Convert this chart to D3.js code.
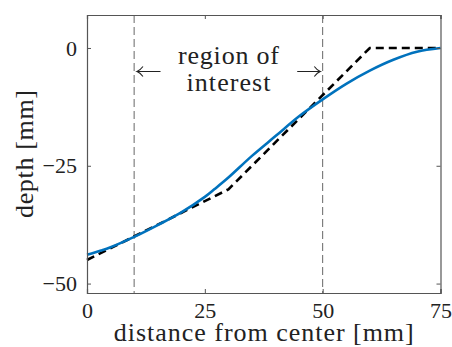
<!DOCTYPE html>
<html><head><meta charset="utf-8">
<script src="https://cdn.jsdelivr.net/npm/d3@7"></script>
<style>body{margin:0;background:#fff}svg{display:block}</style>
</head><body><svg id="c" width="452" height="347"></svg>
<script>
const blueX = [0, 3, 5, 10, 15, 20, 25, 27, 30, 35, 40, 45, 50, 55, 60, 65, 70, 75];
const blueY = [-43.9, -43.0, -42.3, -40.1, -37.6, -34.9, -31.6, -30.0, -27.5, -22.9, -18.7, -14.5, -10.9, -7.6, -4.8, -2.5, -0.8, 0];
const dashX = [0, 30, 60, 75];
const dashY = [-45, -30, 0, 0];
const regionX = [10, 50];
const xTicks = [0, 25, 50, 75];
const yTicks = [0, -25, -50];
const xLabel = "distance from center [mm]";
const yLabel = "depth [mm]";
const noteLines = ["region of", "interest"];

const FONT = '"Liberation Serif"';
const svg = d3.select("#c");
const L = 87, R = 440.5, T = 15, B = 293;
const x = d3.scaleLinear().domain([0, 75]).range([L, R]);
const y = d3.scaleLinear().domain([-52, 7]).range([B, T]);
const axisCol = "#555";

svg.selectAll(".reg").data(regionX).enter().append("line")
  .attr("x1", d => x(d)).attr("x2", d => x(d)).attr("y1", T).attr("y2", B)
  .attr("stroke", "#666").attr("stroke-width", 1).attr("stroke-dasharray", "8,4");

const line = d3.line().x(d => x(d[0])).y(d => y(d[1]));
svg.append("path").datum(dashX.map((v, i) => [v, dashY[i]]))
  .attr("d", line).attr("fill", "none").attr("stroke", "#000")
  .attr("stroke-width", 2.6).attr("stroke-dasharray", "8,5");
svg.append("path").datum(blueX.map((v, i) => [v, blueY[i]]))
  .attr("d", d3.line().x(d => x(d[0])).y(d => y(d[1])).curve(d3.curveCatmullRom))
  .attr("fill", "none").attr("stroke", "#0072BD").attr("stroke-width", 2.6);

const gx = svg.append("g").attr("transform", `translate(0,${B})`)
  .call(d3.axisBottom(x).tickValues(xTicks).tickSize(-4).tickPadding(9).tickFormat(d3.format("d")));
const gxt = svg.append("g").attr("transform", `translate(0,${T})`)
  .call(d3.axisTop(x).tickValues(xTicks).tickSize(-4).tickFormat(""));
const gy = svg.append("g").attr("transform", `translate(${L},0)`)
  .call(d3.axisLeft(y).tickValues(yTicks).tickSize(-4).tickPadding(10).tickFormat(d => d < 0 ? "\u2212" + Math.abs(d) : d));
const gyr = svg.append("g").attr("transform", `translate(${R},0)`)
  .call(d3.axisRight(y).tickValues(yTicks).tickSize(-4).tickFormat(""));
[gx, gxt, gy, gyr].forEach(g => {
  g.attr("font-family", null).attr("font-size", null);
  g.selectAll("path.domain").attr("stroke", axisCol).attr("stroke-width", 1.2);
  g.selectAll(".tick line").attr("stroke", axisCol);
  g.selectAll(".tick text").attr("fill", "#222").style("font-family", FONT).style("font-size", "22px");
});

svg.append("text").attr("x", (L + R) / 2).attr("y", 341).attr("text-anchor", "middle")
  .style("font-family", FONT).style("font-size", "26px").attr("fill", "#222")
  .attr("textLength", 300).attr("lengthAdjust", "spacing").text(xLabel);
svg.append("text").attr("transform", `translate(33,${(T + B) / 2}) rotate(-90)`)
  .attr("text-anchor", "middle").style("font-family", FONT).style("font-size", "26px").attr("fill", "#222")
  .attr("textLength", 128).attr("lengthAdjust", "spacing").text(yLabel);

svg.selectAll(".note").data(noteLines).enter().append("text")
  .attr("x", 228.5).attr("y", (d, i) => 64 + i * 27).attr("text-anchor", "middle")
  .style("font-family", FONT).style("font-size", "26px").attr("fill", "#222")
  .attr("textLength", (d, i) => i === 0 ? 101 : 84).attr("lengthAdjust", "spacing")
  .text(d => d);

const ay = y(-5);
function arrow(x0, x1) {
  const dir = Math.sign(x1 - x0);
  svg.append("path")
    .attr("d", `M${x0},${ay}L${x1},${ay}M${x1 - dir * 6},${ay - 5}Q${x1 - dir * 3},${ay - 1} ${x1},${ay}Q${x1 - dir * 3},${ay + 1} ${x1 - dir * 6},${ay + 5}`)
    .attr("fill", "none").attr("stroke", "#222").attr("stroke-width", 1.1);
}
arrow(x(15.6), x(10.6));
arrow(x(44.6), x(49.5));
</script></body></html>
